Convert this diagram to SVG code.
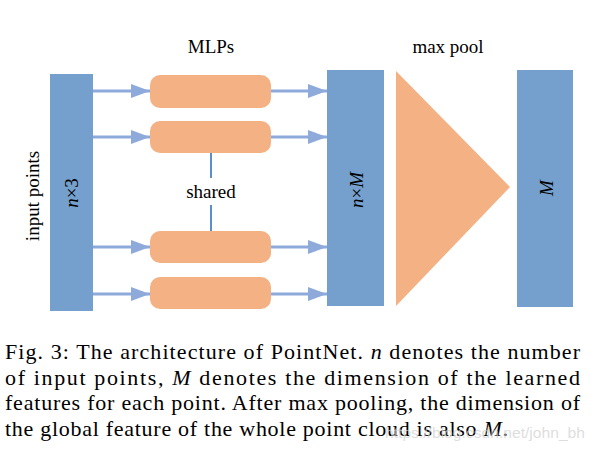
<svg xmlns="http://www.w3.org/2000/svg" width="595" height="452" viewBox="0 0 595 452">
<defs>
<style>
.bar{fill:#759fcc}
.mlp{fill:#f4b183}
.lbl{font-family:"Liberation Serif","Times New Roman",serif;font-size:19px;fill:#000}
.it{font-style:italic}
.cap{font-family:"Liberation Serif","Times New Roman",serif;font-size:22px;fill:#000}
.conn{stroke:#8eaadb;stroke-width:3;fill:none}
.shr{stroke:#5b8fcb;stroke-width:2;fill:none}
</style>
<marker id="ah" markerUnits="userSpaceOnUse" markerWidth="20" markerHeight="14" refX="19" refY="7" orient="auto">
<path d="M0,0 L19,7 L0,14 Z" fill="#8eaadb"/>
</marker>
</defs>
<rect width="595" height="452" fill="#fff"/>

<g id="input">
<rect class="bar" x="50" y="74" width="43" height="237"/>
<text class="lbl it" transform="translate(78,193) rotate(-90)" text-anchor="middle">n<tspan font-style="normal">×3</tspan></text>
<text class="lbl" transform="translate(38.5,196) rotate(-90)" text-anchor="middle">input points</text>
</g>

<g id="mlp1"><rect class="mlp" x="150" y="75" width="121" height="33" rx="10"/></g>
<g id="mlp2"><rect class="mlp" x="150" y="121" width="121" height="32" rx="10"/></g>
<g id="mlp3"><rect class="mlp" x="150" y="231" width="121" height="32" rx="10"/></g>
<g id="mlp4"><rect class="mlp" x="150" y="277" width="121" height="32" rx="10"/></g>
<g id="mlps-label"><text class="lbl" x="211" y="53" text-anchor="middle">MLPs</text></g>

<g id="features">
<rect class="bar" x="327" y="70" width="57" height="236"/>
<text class="lbl it" transform="translate(362.5,190) rotate(-90)" text-anchor="middle">n<tspan font-style="normal">×</tspan>M</text>
</g>

<g id="maxpool">
<polygon class="mlp" points="396,71 510,187 396,306"/>
<text class="lbl" x="448" y="53" text-anchor="middle">max pool</text>
</g>

<g id="global">
<rect class="bar" x="517" y="70" width="56" height="237"/>
<text class="lbl it" transform="translate(553,188) rotate(-90)" text-anchor="middle">M</text>
</g>

<g id="connectors">
<line class="conn" x1="93" y1="91" x2="150" y2="91" marker-end="url(#ah)"/>
<line class="conn" x1="93" y1="137" x2="150" y2="137" marker-end="url(#ah)"/>
<line class="conn" x1="93" y1="247" x2="150" y2="247" marker-end="url(#ah)"/>
<line class="conn" x1="93" y1="294" x2="150" y2="294" marker-end="url(#ah)"/>
<line class="conn" x1="271" y1="91" x2="327" y2="91" marker-end="url(#ah)"/>
<line class="conn" x1="271" y1="137" x2="327" y2="137" marker-end="url(#ah)"/>
<line class="conn" x1="271" y1="247" x2="327" y2="247" marker-end="url(#ah)"/>
<line class="conn" x1="271" y1="294" x2="327" y2="294" marker-end="url(#ah)"/>
<line class="shr" x1="211" y1="153" x2="211" y2="178"/>
<line class="shr" x1="211" y1="205" x2="211" y2="231"/>
<text class="lbl" x="211" y="198" text-anchor="middle">shared</text>
</g>

<g id="caption">
<text class="cap" x="5" y="359" textLength="575" lengthAdjust="spacing">Fig. 3: The architecture of PointNet. <tspan class="it">n</tspan> denotes the number</text>
<text class="cap" x="5" y="385" textLength="575" lengthAdjust="spacing">of input points, <tspan class="it">M</tspan> denotes the dimension of the learned</text>
<text class="cap" x="5" y="410" textLength="575" lengthAdjust="spacing">features for each point. After max pooling, the dimension of</text>
<text class="cap" x="5" y="436" textLength="503" lengthAdjust="spacing">the global feature of the whole point cloud is also <tspan class="it">M</tspan>.</text>
<text x="385" y="437.5" textLength="200" lengthAdjust="spacingAndGlyphs" font-family="'Liberation Sans',Arial,sans-serif" font-size="15" fill="#d2d2d2" fill-opacity="0.75">https://blog.csdn.net/john_bh</text>
</g>
</svg>
